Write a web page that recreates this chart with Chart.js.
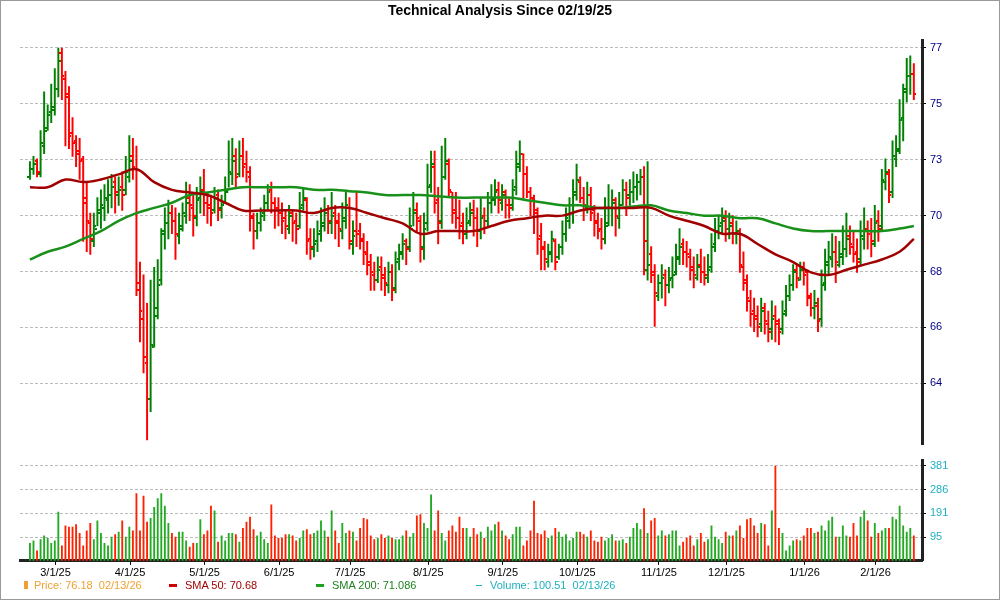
<!DOCTYPE html>
<html><head><meta charset="utf-8">
<script src="https://cdn.jsdelivr.net/npm/chart.js@4"></script>
<style>
body{margin:0;width:1000px;height:600px;position:relative;overflow:hidden;background:#fff;font-family:Arial,"Liberation Sans",sans-serif}
#frame{position:absolute;left:0;top:0;width:998px;height:598px;border:1px solid #999}
#title{position:absolute;left:0;top:2px;width:1000px;text-align:center;font-weight:bold;font-size:14px;color:#000}
canvas{position:absolute;left:0}
#c1{top:0}
#c2{top:450px}
#legend{position:absolute;left:24px;top:579px;font-size:11px;white-space:pre}
#legend span{position:absolute;top:0}
</style></head><body>
<div id="frame"></div>
<canvas id="c1" width="1000" height="455"></canvas>
<canvas id="c2" width="1000" height="132"></canvas>
<div id="title">Technical Analysis Since 02/19/25</div>
<div id="legend">
<span style="left:0;color:#f0a030"><b style="display:inline-block;width:4px;height:8px;background:#f0a030;margin-right:6px"></b>Price: 76.18  02/13/26</span>
<span style="left:145px;color:#a00000"><b style="display:inline-block;width:8px;height:3px;background:#d00000;margin:0 8px 2px 0"></b>SMA 50: 70.68</span>
<span style="left:292px;color:#208020"><b style="display:inline-block;width:8px;height:3px;background:#20a020;margin:0 8px 2px 0"></b>SMA 200: 71.086</span>
<span style="left:452px;color:#20b0c0"><b style="display:inline-block;width:6px;height:1px;background:#20b0c0;margin:0 8px 3px 0"></b>Volume: 100.51  02/13/26</span>
</div>
<script>
const opens=[72.0,72.3,72.6,72.1,73.2,73.9,74.5,74.6,75.4,76.8, 75.8,75.1,73.7,73.4,73.0,72.7,71.0,70.2,69.5,70.0, 70.6,70.8,71.1,71.3,71.8,71.3,71.6,71.5,72.0,72.8, 72.3,67.9,66.5,64.8,63.4,65.4,66.9,68.0,69.9,70.2, 70.6,70.3,69.7,70.1,70.5,71.2,70.8,70.4,71.2,71.5, 71.0,70.9,70.7,71.3,70.8,71.0,71.4,72.1,72.8,72.1, 72.8,72.5,72.0,70.4,69.9,70.2,70.6,71.0,71.5,71.0, 70.8,70.6,70.4,70.0,70.6,70.3,70.1,70.9,71.1,69.6, 69.2,69.5,69.9,70.2,70.7,70.2,70.6,70.3,69.9,70.4, 70.8,69.4,69.9,69.9,69.5,69.0,68.7,68.2,68.0,68.5, 68.2,67.8,68.3,67.7,68.8,69.1,69.5,69.3,70.0,70.7, 70.3,69.3,70.2,71.7,72.4,71.1,70.3,72.0,72.5,71.4, 70.6,70.4,70.2,69.8,70.3,70.7,70.4,69.9,70.5,70.3, 71.0,71.1,71.5,71.0,71.4,70.9,70.9,71.6,72.4,72.9, 72.1,71.4,71.1,70.7,69.7,69.3,68.7,69.1,69.5,68.9, 69.3,69.8,70.3,70.6,71.3,71.8,71.2,70.8,71.3,70.7, 70.3,70.0,69.6,70.2,70.8,71.1,70.4,70.9,71.5,71.3, 71.4,71.6,71.8,72.0,68.4,69.0,68.2,67.4,67.9,68.2, 67.8,68.1,68.3,68.9,69.4,69.1,68.9,68.5,68.1,68.6, 68.3,68.1,68.5,69.4,69.9,70.2,70.4,70.0,70.2,69.8, 69.8,68.5,67.9,67.2,66.8,66.6,66.3,66.9,66.3,66.1, 66.6,66.3,66.1,66.8,67.4,67.8,68.4,68.0,68.5,68.3, 67.3,66.9,67.0,66.5,67.9,68.7,68.8,69.1,68.6,69.0, 69.2,69.7,69.3,69.1,68.8,69.6,70.0,69.9,69.4,70.3, 70.1,71.8,72.1,71.4,72.7,73.0,74.3,75.3,75.9,76.0];
const highs=[72.6,72.8,72.7,73.8,75.3,74.8,75.6,76.2,77.0,77.0, 76.1,75.5,74.3,73.6,73.5,72.8,71.8,70.6,70.6,71.2, 71.5,71.7,71.9,72.1,72.0,72.0,72.2,72.8,73.6,73.5, 73.2,68.7,68.2,67.1,68.0,68.5,68.8,70.0,70.8,71.1, 70.9,70.8,70.6,71.0,71.8,71.7,71.3,71.6,72.0,72.3, 71.4,71.3,71.6,71.5,71.3,72.0,73.4,73.5,73.1,73.4, 73.5,73.0,72.4,70.6,70.6,70.8,71.3,71.7,71.8,71.2, 71.2,71.0,70.7,70.9,70.7,70.6,71.4,71.6,71.2,70.0, 70.0,70.3,70.8,71.2,70.9,71.4,70.9,70.6,71.0,71.4, 71.2,70.3,71.4,70.2,69.8,69.5,69.0,68.7,68.9,68.9, 68.5,68.7,68.6,69.1,69.4,69.8,69.6,70.8,71.4,71.0, 70.5,70.6,72.5,73.0,73.0,71.6,73.2,73.5,72.7,71.4, 71.4,71.1,70.6,70.8,71.0,71.1,70.8,71.2,70.8,71.4, 71.7,71.9,71.8,71.7,71.5,71.2,71.9,73.0,73.4,72.9, 72.4,71.6,71.3,70.8,70.2,69.5,69.4,69.9,69.6,69.4, 70.3,70.8,71.2,71.9,72.5,72.0,71.6,71.8,71.6,70.9, 70.6,70.4,71.2,71.7,71.5,71.2,71.4,71.9,71.8,71.9, 72.2,72.1,72.3,72.4,72.6,69.3,68.6,68.2,68.6,68.4, 68.5,68.9,69.4,70.0,69.6,69.5,69.2,68.9,69.0,69.2, 68.9,69.0,69.8,70.4,70.5,70.8,70.7,70.6,70.5,70.3, 70.0,69.1,68.2,67.6,67.3,67.0,67.3,67.1,66.8,67.2, 67.0,66.5,67.2,67.8,68.2,68.6,68.6,68.7,68.7,68.4, 67.5,67.6,67.3,68.4,69.2,69.5,69.8,69.7,69.5,70.1, 70.6,70.1,69.9,69.6,70.3,70.8,70.3,70.4,70.9,70.7, 72.3,72.7,72.3,73.4,73.6,75.0,75.6,76.6,76.7,76.4];
const lows=[71.9,72.1,72.0,72.0,72.9,73.8,74.1,74.4,75.1,75.0, 73.2,73.1,72.8,72.4,71.9,69.5,69.1,69.0,69.3,70.1, 70.0,70.3,70.6,70.8,70.6,70.9,70.7,71.3,71.8,71.9, 67.4,65.6,64.4,61.8,62.9,65.4,66.5,67.8,69.2,69.6, 69.8,68.8,69.4,69.9,70.2,70.3,69.7,70.1,70.6,70.5, 70.2,70.1,70.6,70.3,70.4,71.0,71.6,71.7,71.6,72.0, 72.0,71.8,69.9,69.2,69.6,69.9,70.3,70.7,70.6,70.0, 70.1,69.8,69.6,69.8,69.5,69.4,70.0,70.7,69.0,68.8, 68.9,69.1,69.5,69.9,69.8,69.8,69.6,69.3,69.6,70.0, 69.2,69.0,69.3,69.2,68.6,68.2,67.6,67.6,67.9,67.6, 67.4,67.5,67.2,67.5,68.4,68.8,68.6,69.1,70.1,69.9, 68.7,68.8,69.9,71.4,70.6,69.4,70.0,71.9,71.2,70.2, 70.0,69.6,69.4,69.6,70.1,69.7,69.3,69.6,69.8,70.1, 70.6,70.9,70.6,70.7,70.4,70.4,70.7,71.3,72.2,71.2, 71.2,70.5,69.8,69.0,68.4,68.4,68.5,68.7,68.4,68.8, 69.0,69.5,70.0,70.2,71.1,71.0,70.3,70.6,70.3,69.7, 69.6,69.2,69.4,70.1,70.1,69.7,70.0,70.9,70.5,70.9, 71.0,71.1,71.3,68.2,68.0,67.9,66.2,67.2,67.3,67.0, 67.5,67.7,68.2,68.6,68.6,68.5,68.0,67.7,68.0,67.9, 67.8,67.9,68.3,69.1,69.6,69.8,69.5,69.6,69.4,69.4, 68.3,67.6,66.8,66.2,66.0,65.8,66.0,65.9,65.6,65.7, 65.6,65.5,65.9,66.6,67.2,67.6,67.7,68.0,67.8,67.0, 66.6,66.5,66.0,66.2,67.6,68.2,68.5,67.9,68.5,68.6, 68.9,69.0,68.7,68.3,68.6,69.2,69.2,68.9,69.3,69.5, 69.9,71.5,71.0,71.2,72.4,72.9,73.4,74.9,75.2,75.0];
const closes=[72.3,72.5,72.2,73.3,73.8,74.4,74.7,75.4,76.5,75.9, 75.2,73.6,73.3,72.9,72.6,71.2,70.3,69.6,70.1,70.7, 70.9,71.2,71.3,71.6,71.4,71.5,71.3,72.2,72.6,72.4, 67.6,66.8,65.0,63.4,65.5,66.6,67.8,69.8,70.2,70.6, 70.3,69.8,70.0,70.6,71.0,70.9,70.5,71.1,71.4,71.0, 70.8,70.6,71.2,70.7,70.9,71.5,72.2,72.6,72.0,72.8, 72.4,72.2,70.5,69.9,70.2,70.5,71.0,71.4,71.0,70.8, 70.6,70.3,70.1,70.5,70.2,70.0,70.8,71.2,69.5,69.3, 69.4,69.8,70.1,70.6,70.3,70.5,70.2,70.0,70.3,70.9, 69.5,69.7,69.8,69.6,69.1,68.6,68.3,68.0,68.4,68.1, 67.9,68.3,67.6,68.7,69.0,69.4,69.2,70.1,70.6,70.4, 69.2,70.0,71.6,72.5,71.0,70.2,72.0,72.6,71.5,70.7, 70.4,70.1,69.8,70.2,70.6,70.4,69.9,70.4,70.3,71.0, 71.2,71.4,71.1,71.3,70.9,70.8,71.5,72.5,72.9,72.1, 71.4,71.2,70.6,69.6,69.2,68.8,69.0,69.6,68.7,69.3, 69.8,70.4,70.6,71.4,71.9,71.2,70.9,71.3,70.6,70.2, 69.9,69.6,70.1,70.8,71.0,70.5,70.9,71.5,71.2,71.4, 71.6,71.8,72.0,69.5,68.6,68.3,67.5,67.9,68.1,67.8, 68.0,68.2,68.8,69.3,69.1,69.0,68.4,68.2,68.5,68.3, 68.2,68.4,69.3,69.9,70.1,70.3,70.0,70.1,69.8,69.9, 68.6,68.0,67.3,66.7,66.5,66.2,66.8,66.4,66.0,66.5, 66.4,66.0,66.7,67.4,67.8,68.3,68.1,68.4,68.2,67.4, 66.9,67.1,66.4,67.8,68.6,68.9,69.1,68.7,68.9,69.2, 69.6,69.4,69.0,68.7,69.7,69.9,69.8,69.5,70.2,70.0, 71.9,72.2,71.3,72.8,73.1,74.2,75.4,75.9,76.0,75.2];
const volumes=[70,80,40,85,100,90,70,80,195,60, 140,135,135,145,110,60,120,150,85,160, 110,70,60,95,105,115,160,95,135,120, 270,120,260,155,170,215,250,270,220,150, 110,95,115,115,80,55,70,70,165,105, 120,220,200,75,100,80,110,110,105,75, 130,155,175,125,100,115,85,70,225,100, 90,90,105,105,100,80,90,120,125,105, 110,120,160,120,95,200,120,70,150,110, 120,115,80,130,170,165,100,85,90,105, 90,100,90,85,85,100,120,95,110,180, 185,150,130,265,120,200,110,80,120,140, 115,175,130,130,95,130,105,115,90,135, 120,145,155,120,100,85,105,135,135,60, 80,120,240,110,105,120,90,100,130,115, 95,105,80,90,115,115,105,95,120,80, 75,95,80,90,105,80,80,85,70,95, 130,150,125,210,110,160,170,100,120,100, 105,120,120,60,75,90,100,60,85,110, 75,85,140,95,85,70,115,100,100,120, 140,90,165,170,140,110,150,145,60,200, 380,130,110,40,60,80,85,80,100,130, 130,110,115,140,120,160,175,95,95,140, 100,95,150,100,175,200,160,95,150,110, 120,130,130,175,165,220,140,115,130,100];
// SMA values sampled every 5 trading days (last entry = final day)
const sma50=[71.6,71.6,71.9,71.8,71.9,72.1,72.3,71.8,71.5,71.4,71.3,71.0,70.7,70.7,70.7,70.7,70.6,70.8,70.8,70.6,70.4,70.2,69.8,69.9,69.9,69.9,70.1,70.3,70.4,70.5,70.5,70.7,70.8,70.8,70.8,70.8,70.5,70.3,70.1,69.8,69.8,69.4,69.0,68.7,68.3,68.2,68.4,68.6,68.8,69.1,69.6];
const sma200=[68.8,69.1,69.3,69.6,69.9,70.3,70.6,70.8,71.0,71.3,71.4,71.5,71.6,71.6,71.6,71.6,71.5,71.5,71.45,71.4,71.3,71.3,71.3,71.25,71.2,71.2,71.2,71.2,71.1,71.0,70.9,70.9,70.8,70.8,70.85,70.9,70.7,70.6,70.5,70.5,70.4,70.4,70.2,70.0,69.9,69.9,69.9,69.9,69.9,70.0,70.1];
const priceTickLabels=['64','66','68','70','73','75','77'];
const volTickLabels=['95','191','286','381'];
const holidays=['2025-04-18','2025-05-26','2025-06-19','2025-07-04','2025-09-01','2025-11-27','2025-12-25','2026-01-01','2026-01-19'];

const N=closes.length;
const days=[];{let d=new Date(Date.UTC(2025,1,19));while(days.length<N){const w=d.getUTCDay();const s=d.toISOString().slice(0,10);if(w!==0&&w!==6&&!holidays.includes(s))days.push(new Date(d));d.setUTCDate(d.getUTCDate()+1);}}
const monthTicks=[];for(let i=1;i<N;i++){if(days[i].getUTCMonth()!==days[i-1].getUTCMonth())monthTicks.push({v:i-0.8,l:(days[i].getUTCMonth()+1)+'/1/'+String(days[i].getUTCFullYear()).slice(2)});}
const up=i=>closes[i]>=opens[i];
const G='#008000',R='#ff0000';
function tick(col,left){const c=document.createElement('canvas');c.width=5;c.height=2;const x=c.getContext('2d');x.fillStyle=col;x.fillRect(left?0:3,0,2,2);return c;}
const tk={gl:tick(G,1),gr:tick(G,0),rl:tick(R,1),rr:tick(R,0)};
const XMIN=-2.8,XMAX=251.3,AXW=40;
const smaPts=a=>a.map((v,k)=>({x:Math.min(k*5,N-1),y:v}));
const pStep=13/6;
new Chart(document.getElementById('c1'),{
 data:{datasets:[
  {type:'bar',data:closes.map((c,i)=>({x:i,y:[lows[i],highs[i]]})),backgroundColor:closes.map((c,i)=>up(i)?G:R),barThickness:1.3,order:3},
  {type:'scatter',data:opens.map((o,i)=>({x:i,y:o})),pointStyle:ctx=>up(ctx.dataIndex)?tk.gl:tk.rl,order:2},
  {type:'scatter',data:closes.map((c,i)=>({x:i,y:c})),pointStyle:ctx=>up(ctx.dataIndex)?tk.gr:tk.rr,order:2},
  {type:'line',data:smaPts(sma50),borderColor:'#a00000',borderWidth:2.5,pointRadius:0,tension:0.4,order:1},
  {type:'line',data:smaPts(sma200),borderColor:'#18901a',borderWidth:2.5,pointRadius:0,tension:0.4,order:1}
 ]},
 options:{responsive:false,animation:false,devicePixelRatio:1,
  layout:{padding:{left:20,right:1000-922-AXW,top:40,bottom:0}},
  plugins:{legend:{display:false},tooltip:{enabled:false}},
  scales:{
   x:{type:'linear',min:XMIN,max:XMAX,display:false,offset:false,grid:{offset:false}},
   y:{position:'right',min:61.63,max:77.31,
      afterBuildTicks:s=>{s.ticks=priceTickLabels.map((l,k)=>({value:64+k*pStep}));},
      afterFit:s=>{s.width=AXW;},
      ticks:{callback:(v,i)=>priceTickLabels[i],color:'#000080',font:{size:11},padding:4},
      grid:{color:'#bbb',tickColor:'#000',tickLength:4},
      border:{color:'#222',width:3,dash:[3,2]}}
  }}
});
new Chart(document.getElementById('c2'),{
 type:'bar',
 data:{datasets:[{data:volumes.map((v,i)=>({x:i,y:v})),backgroundColor:volumes.map((v,i)=>up(i)?'#22aa22':'#ff2200'),barThickness:1.2}]},
 options:{responsive:false,animation:false,devicePixelRatio:1,
  layout:{padding:{left:20,right:1000-922-AXW,top:5,bottom:0}},
  plugins:{legend:{display:false},tooltip:{enabled:false}},
  scales:{
   x:{type:'linear',min:XMIN,max:XMAX,offset:false,
      afterBuildTicks:s=>{s.ticks=monthTicks.map(t=>({value:t.v}));},
      ticks:{callback:(v,i)=>monthTicks[i]?monthTicks[i].l:'',color:'#000',font:{size:11},maxRotation:0,autoSkip:false,padding:2},
      grid:{drawOnChartArea:false,tickColor:'#000',tickLength:4,offset:false},border:{color:'#222',width:3}},
   y:{position:'right',min:0,max:402,
      afterBuildTicks:s=>{s.ticks=volTickLabels.map((l,k)=>({value:95.25*(k+1)}));},
      afterFit:s=>{s.width=AXW;},
      ticks:{callback:(v,i)=>volTickLabels[i],color:'#20b0c0',font:{size:11},padding:4},
      grid:{color:'#bbb',tickColor:'#000',tickLength:4},border:{color:'#222',width:3,dash:[3,2]}}
  }}
});
</script>
</body></html>
